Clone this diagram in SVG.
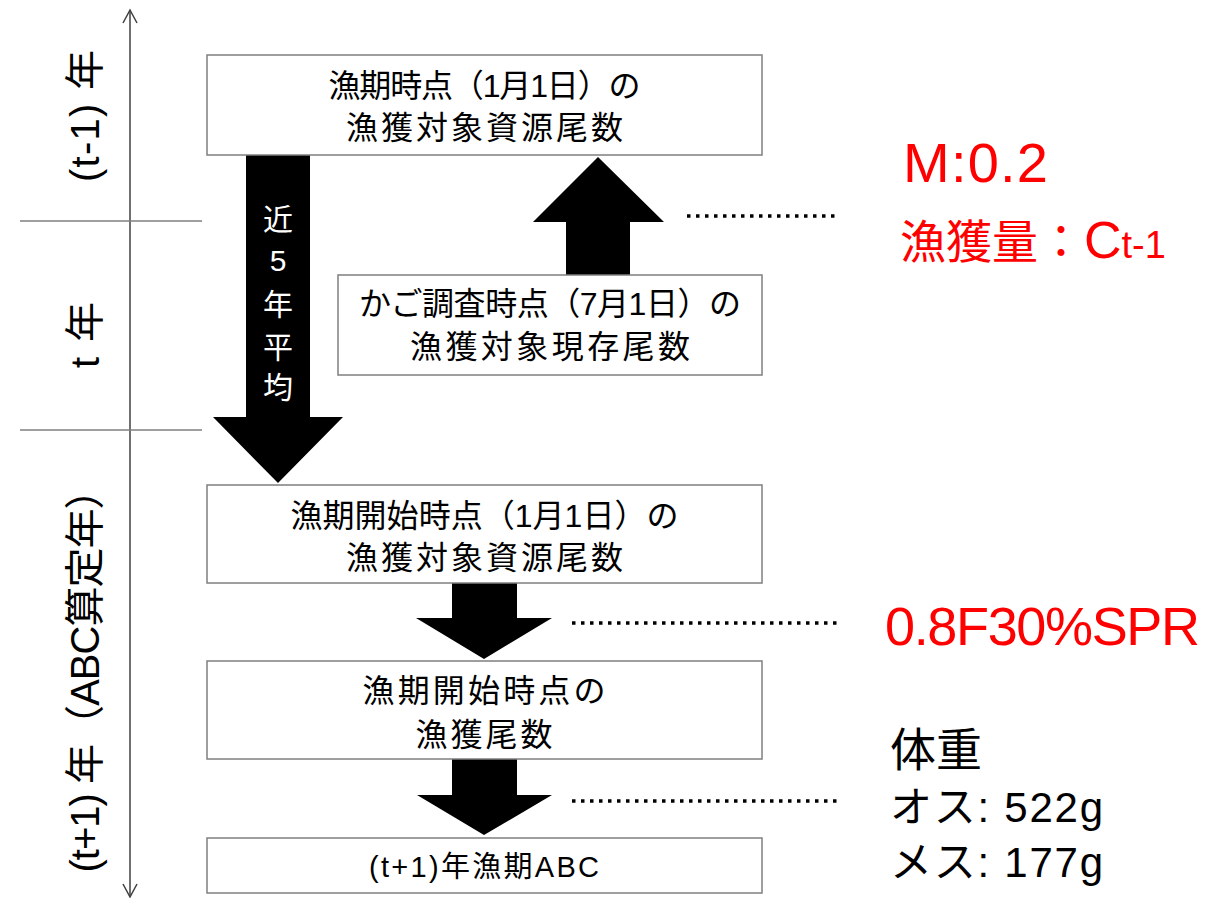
<svg xmlns="http://www.w3.org/2000/svg" width="1216" height="898" viewBox="0 0 1216 898">
<style>
.box{fill:#fff;stroke:#7f7f7f;stroke-width:1.5}
.t{font-family:"Liberation Sans","Noto Sans CJK JP",sans-serif;fill:#000}
.bt{font-size:32px;text-anchor:middle}
.red{fill:#ff0000}
.dot{stroke:#000;stroke-width:3.5;stroke-dasharray:3.5 5.5;fill:none}
.big{fill:#000}
.side{font-size:40px;text-anchor:middle}
</style>
<g id="axis">
<line x1="130" y1="10" x2="130" y2="896" stroke="#404040" stroke-width="1.5"/>
<polyline points="123,23 130,10 137,23" fill="none" stroke="#404040" stroke-width="1.5"/>
<polyline points="123,884 130,897 137,884" fill="none" stroke="#404040" stroke-width="1.5"/>
<line x1="20" y1="221" x2="202" y2="221" stroke="#7f7f7f" stroke-width="1.5"/>
<line x1="20" y1="430" x2="202" y2="430" stroke="#7f7f7f" stroke-width="1.5"/>
<text class="t side" transform="translate(99,116) rotate(-90)" textLength="132">(t-1) 年</text>
<text class="t side" transform="translate(99,335) rotate(-90)" textLength="66">t 年</text>
<text class="t side" transform="translate(99,671) rotate(-90)" textLength="403">(t+1) 年（ABC算定年）</text>
</g>
<g id="connectors">
<polygon class="big" points="246,155 310,155 310,417 343,417 278,483 213,417 246,417"/>
<polygon class="big" points="566,275 630,275 630,222 664,222 598,157 533,222 566,222"/>
<polygon class="big" points="452,583 517,583 517,618 552,618 484,659 416,618 452,618"/>
<polygon class="big" points="452,759 517,759 517,795 552,795 484,835 417,795 452,795"/>
<line class="dot" x1="687" y1="216" x2="840" y2="216"/>
<line class="dot" x1="572" y1="623" x2="840" y2="623"/>
<line class="dot" x1="572" y1="801" x2="840" y2="801"/>
</g>
<g id="label-avg" class="t" font-size="30" text-anchor="middle">
<text x="278" y="230" fill="#fff">近</text>
<text x="278" y="271" fill="#fff">5</text>
<text x="278" y="315" fill="#fff">年</text>
<text x="278" y="358" fill="#fff">平</text>
<text x="278" y="398" fill="#fff">均</text>
</g>
<g id="node1">
<rect class="box" x="207" y="55" width="555" height="100"/>
<text class="t bt" x="484.5" y="97" textLength="312">漁期時点（1月1日）の</text>
<text class="t bt" x="484.5" y="139" textLength="277">漁獲対象資源尾数</text>
</g>
<g id="node2">
<rect class="box" x="338" y="275" width="424" height="100"/>
<text class="t bt" x="550" y="315" textLength="382">かご調査時点（7月1日）の</text>
<text class="t bt" x="550" y="358" textLength="280">漁獲対象現存尾数</text>
</g>
<g id="node3">
<rect class="box" x="207" y="485" width="555" height="98"/>
<text class="t bt" x="484.5" y="527" textLength="388">漁期開始時点（1月1日）の</text>
<text class="t bt" x="484.5" y="569" textLength="277">漁獲対象資源尾数</text>
</g>
<g id="node4">
<rect class="box" x="207" y="661" width="555" height="98"/>
<text class="t bt" x="484" y="702" textLength="243">漁期開始時点の</text>
<text class="t bt" x="484" y="746" textLength="137">漁獲尾数</text>
</g>
<g id="node5">
<rect class="box" x="207" y="838" width="555" height="55"/>
<text class="t" x="484" y="877" font-size="29" text-anchor="middle" textLength="230">(t+1)年漁期ABC</text>
</g>
<g id="note-m">
<text class="t red" x="903" y="182" font-size="56" textLength="145">M:0.2</text>
<text class="t red" x="900" y="258" font-size="46">漁獲量：<tspan font-size="52">C</tspan><tspan font-size="38">t-1</tspan></text>
</g>
<g id="note-f">
<text class="t red" x="885" y="645" font-size="54" textLength="315">0.8F30%SPR</text>
</g>
<g id="note-w">
<text class="t" x="890" y="766" font-size="46">体重</text>
<text class="t" x="890" y="822" font-size="42" textLength="213">オス: 522g</text>
<text class="t" x="890" y="877" font-size="42" textLength="213">メス: 177g</text>
</g>
</svg>
